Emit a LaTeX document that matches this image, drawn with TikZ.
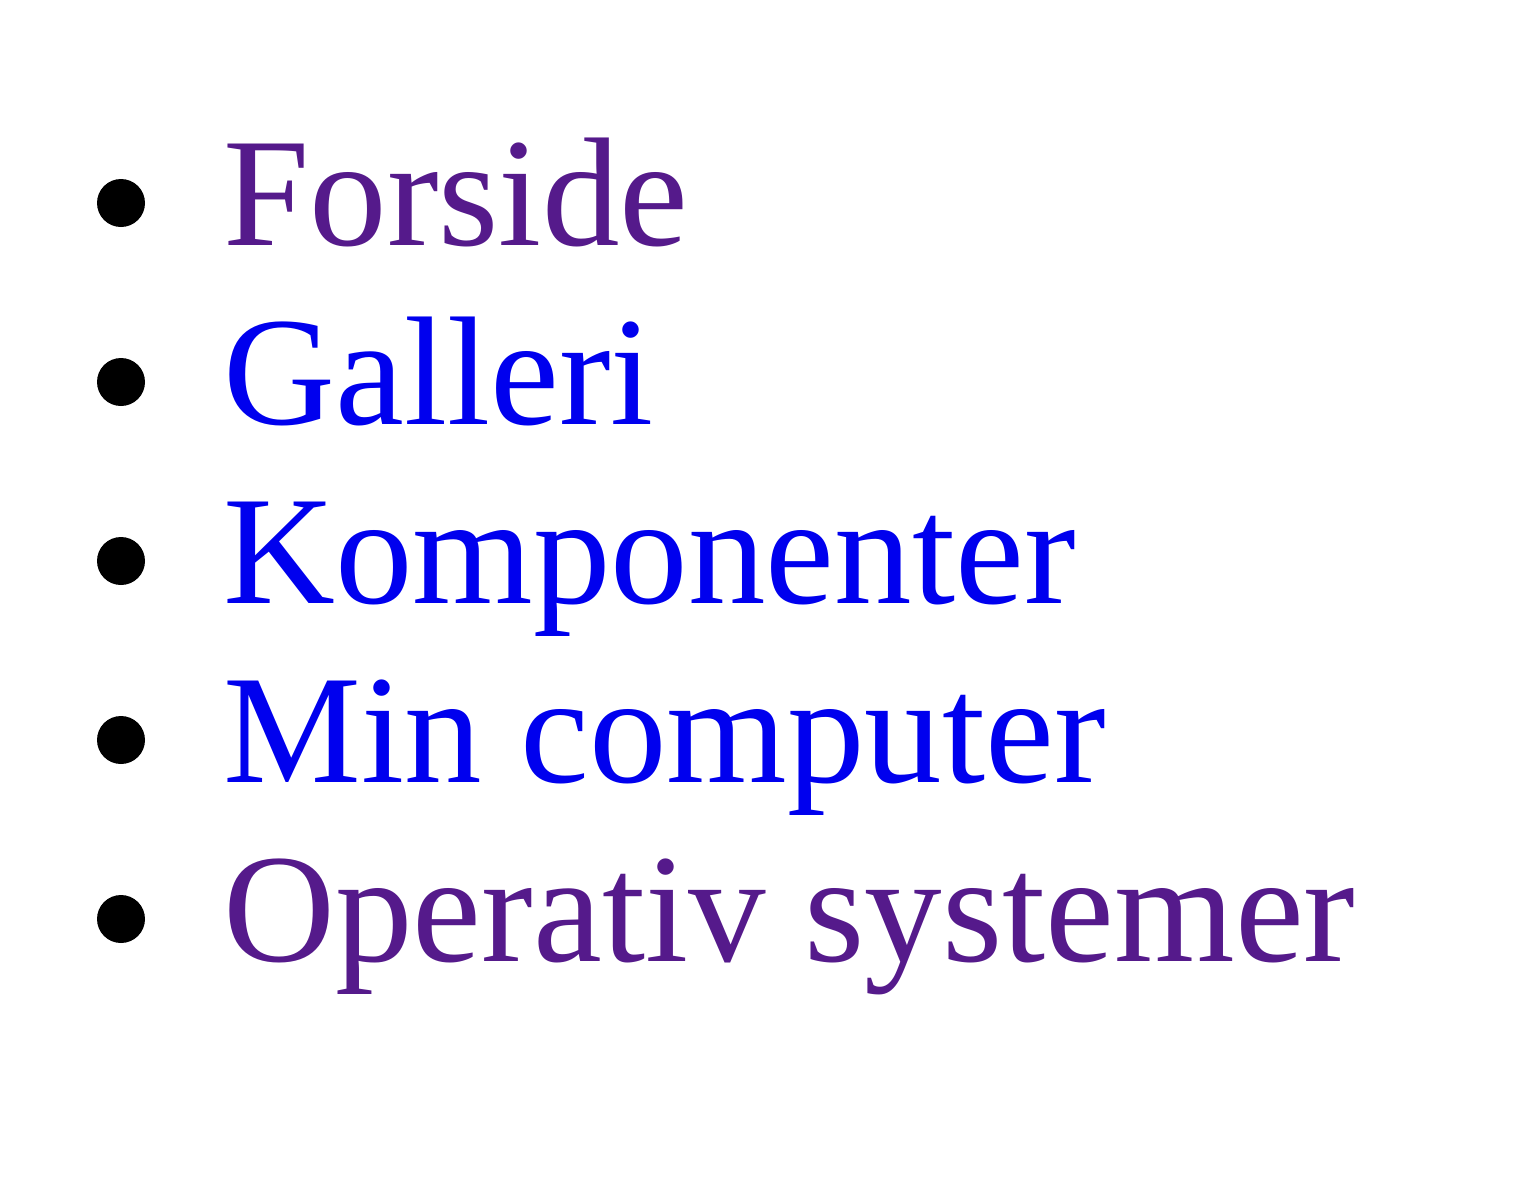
\documentclass[tikz,border=0pt]{standalone}
\usepackage{fontspec}
\setmainfont{Liberation Serif}
\definecolor{visited}{HTML}{551A8B}
\definecolor{link}{HTML}{0000EE}
\tikzset{
  bul/.style={circle,fill=black,inner sep=0pt,minimum size=24pt},
  item/.style={anchor=base west,inner sep=0pt,font=\fontsize{77.5}{77.5}\selectfont}
}
\begin{document}
\begin{tikzpicture}[x=0.5pt,y=-0.5pt]
\useasboundingbox (0,0) rectangle (1520,1180);
\node[bul] (b1) at (121,203) {};
\node[bul] (b2) at (121,382) {};
\node[bul] (b3) at (121,561) {};
\node[bul] (b4) at (121,740) {};
\node[bul] (b5) at (121,919) {};
\node[item,text=visited] (t1) at (223,245) {Forside};
\node[item,text=link] (t2) at (223,424) {Galleri};
\node[item,text=link] (t3) at (223,603) {Komponenter};
\node[item,text=link] (t4) at (223,782) {Min computer};
\node[item,text=visited] (t5) at (223,961) {Operativ systemer};
\end{tikzpicture}
\end{document}
